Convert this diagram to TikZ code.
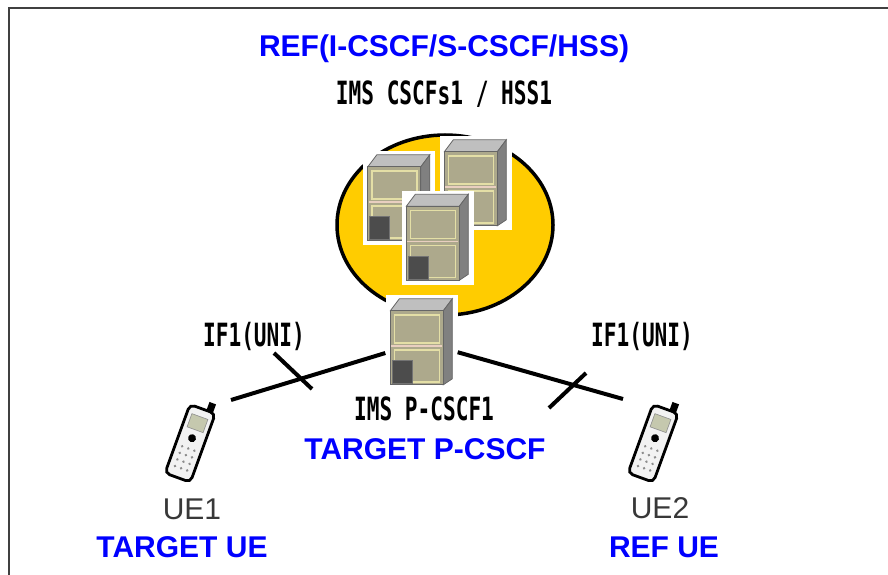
\documentclass[tikz,border=0pt]{standalone}
\usepackage{fontspec}
\usetikzlibrary{shapes.geometric}
\setmainfont{Liberation Sans}
\newfontfamily\gothic[FakeStretch=0.66]{DejaVu Sans Mono}
\begin{document}
\begin{tikzpicture}[x=1pt,y=-1pt,
  bluelbl/.style={text=blue,font=\fontsize{30}{30}\selectfont\bfseries,inner sep=0pt,anchor=base},
  gothlbl/.style={text=black,font=\gothic\bfseries\fontsize{32}{32}\selectfont,inner sep=0pt,anchor=base},
  uelbl/.style={text=black!78,font=\fontsize{30}{30}\selectfont,inner sep=0pt,anchor=base},
  srvbox/.style={fill=white,draw=none,minimum width=72pt,minimum height=94pt,inner sep=0pt},
  phonebox/.style={draw=none,minimum width=54pt,minimum height=86pt,inner sep=0pt},
  link/.style={line width=4pt,black},
  tick/.style={line width=4pt,black},
  server/.pic={
    % top face
    \fill[gray!50] (5,16) -- (14,4) -- (67,4) -- (58,16) -- cycle;
    \draw[black!60,line width=0.8pt] (5,16) -- (14,4) -- (67,4) -- (58,16) -- cycle;
    % right side
    \fill[black!50] (58,16) -- (67,4) -- (67,84) -- (58,90) -- cycle;
    \draw[black!60,line width=0.8pt] (58,16) -- (67,4) -- (67,84) -- (58,90) -- cycle;
    % front face
    \fill[srvkhaki] (5,16) rectangle (58,90);
    \draw[black!60,line width=1pt] (5,16) rectangle (58,90);
    \draw[srvyellow,line width=1.4pt] (9,20) rectangle (54,48);
    \draw[srvpink,line width=1.4pt] (6,51) -- (57,51);
    \draw[srvyellow,line width=1.4pt] (9,55) rectangle (54,87);
    \fill[black!70] (7,66) rectangle (27,89);
    \draw[black!55,line width=0.8pt] (7,66) rectangle (27,89);
  },
  phone/.pic={
    \fill[black] (4,-43) rectangle (11,-33);
    \draw[black,line width=2.8pt,fill=black!5,rounded corners=5pt] (-13.5,-34) rectangle (13.5,39);
    \fill[phonescreen] (-8.5,-26) rectangle (8.5,-12);
    \draw[black!45,line width=0.6pt] (-8.5,-26) rectangle (8.5,-12);
    \fill[black] (0,-3) circle (4);
    \foreach \yy in {8,15,22,29} \foreach \xx in {-6.5,0,6.5}
      \fill[black!45] (\xx,\yy) circle (1.4);
  }
]
\definecolor{srvkhaki}{HTML}{ADA98C}
\definecolor{srvyellow}{HTML}{E4DFA6}
\definecolor{srvpink}{HTML}{E9CFC0}
\definecolor{ellyellow}{HTML}{FFCC00}
\definecolor{phonescreen}{HTML}{C5C8AE}
\definecolor{framegray}{HTML}{404040}

\useasboundingbox (0,0) rectangle (888,575);
\fill[white] (0,0) rectangle (888,575);

% frame
\draw[framegray,line width=2pt] (9,576) -- (9,8) -- (889,8);

% titles
\node[bluelbl] (title) at (444,57) {REF(I-CSCF/S-CSCF/HSS)};
\node[gothlbl] (hsslbl) at (444,105) {IMS CSCFs1 / HSS1};

% ellipse
\node[ellipse,draw=black,line width=3.5pt,fill=ellyellow,minimum width=216pt,minimum height=180pt,inner sep=0pt] (ell) at (445,225) {};

% servers
\node[srvbox] (srvA) at (399,198) {};
\pic at (srvA.north west) {server};
\node[srvbox] (srvB) at (475.5,183) {};
\pic at (srvB.north west) {server};
\node[srvbox] (srvC) at (437.5,237.5) {};
\pic at (srvC.north west) {server};
\node[srvbox] (pcscf) at (421.5,342) {};

% phones
\node[phonebox] (ue1) at (191,441) {};
\node[phonebox] (ue2) at (654,441) {};
\pic[shift={(ue1.center)},rotate=-20,transform shape] {phone};
\pic[shift={(ue2.center)},rotate=-20,transform shape] {phone};

% links
\coordinate (l1) at (231,400);
\coordinate (l2) at (623,399);
\draw[link] (l1) -- (pcscf);
\draw[link] (l2) -- (pcscf);
\pic at (pcscf.north west) {server};

% ticks
\coordinate (t1a) at (274,353);
\coordinate (t1b) at (312,389);
\coordinate (t2a) at (586,373);
\coordinate (t2b) at (549,408);
\draw[tick] (t1a) -- (t1b);
\draw[tick] (t2a) -- (t2b);

% labels
\node[gothlbl] (if1l) at (254,346) {IF1(UNI)};
\node[gothlbl] (if1r) at (642,346) {IF1(UNI)};
\node[gothlbl] (pcscflbl) at (424,420) {IMS P-CSCF1};
\node[bluelbl] (tpcscf) at (425,459) {TARGET P-CSCF};
\node[uelbl] (ue1lbl) at (192,519) {UE1};
\node[uelbl] (ue2lbl) at (660,518) {UE2};
\node[bluelbl] (tue) at (182,557) {TARGET UE};
\node[bluelbl] (rue) at (664,557) {REF UE};
\end{tikzpicture}
\end{document}
